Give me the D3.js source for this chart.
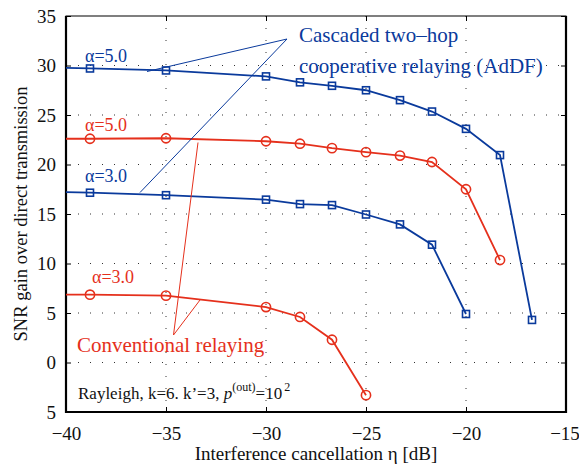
<!DOCTYPE html>
<html>
<head>
<meta charset="utf-8">
<script src="https://cdn.jsdelivr.net/npm/d3@7"></script>
<style>
  body { margin: 0; background: #fff; }
  text { font-family: "Liberation Serif", "DejaVu Serif", "Times New Roman", serif; }
</style>
</head>
<body>
<script>
// interference cancellation (dB); first point sits on the axis, no marker there
var etaX = [-40, -38.8, -35, -30, -28.3, -26.7, -25, -23.3, -21.7, -20, -18.3, -16.7];

// SNR gain values
var addf5 = [29.75, 29.7, 29.5, 28.9, 28.3, 27.95, 27.5, 26.5, 25.35, 23.6, 20.95, 4.3];
var conv5 = [22.6, 22.6, 22.65, 22.35, 22.1, 21.65, 21.25, 20.9, 20.25, 17.5, 10.35];
var addf3 = [17.2, 17.15, 16.9, 16.45, 16.0, 15.9, 14.95, 13.95, 11.9, 4.9];
var conv3 = [6.85, 6.85, 6.75, 5.6, 4.6, 2.3, -3.3];

var xTicks = [-40, -35, -30, -25, -20, -15];
var yTicks = [-5, 0, 5, 10, 15, 20, 25, 30, 35];
var yTickLabels = ["5", "0", "5", "10", "15", "20", "25", "30", "35"];

var blue = "#0a3a9c", red = "#e5301c";

const margin = {top: 16, bottom: 56, right: 13, left: 66},
    width = 579 - margin.left - margin.right,
    height = 468 - margin.top - margin.bottom;

let svg = d3.select("body")
    .append("svg")
    .attr("width", 579)
    .attr("height", 468);

let g = svg.append("g")
    .attr("transform", "translate(" + margin.left + "," + margin.top + ")");

var x = d3.scaleLinear().domain([-40, -15]).range([0, width]);
var y = d3.scaleLinear().domain([-5, 35]).range([height, 0]);

// dotted grid
g.selectAll(".gx").data(xTicks.slice(1, -1)).enter().append("line")
    .attr("x1", d => x(d)).attr("x2", d => x(d))
    .attr("y1", 0).attr("y2", height)
    .attr("stroke", "#333").attr("stroke-width", 1)
    .attr("stroke-dasharray", "1,11");
g.selectAll(".gy").data(yTicks.slice(1, -1)).enter().append("line")
    .attr("y1", d => y(d)).attr("y2", d => y(d))
    .attr("x1", 0).attr("x2", width)
    .attr("stroke", "#333").attr("stroke-width", 1)
    .attr("stroke-dasharray", "1,11");

// axes
g.append("g")
    .attr("transform", "translate(0," + height + ")")
    .call(d3.axisBottom(x).tickValues(xTicks).tickSizeInner(-5).tickSizeOuter(0).tickPadding(15));
g.append("g")
    .call(d3.axisLeft(y).tickValues(yTicks).tickFormat((d, i) => yTickLabels[i])
        .tickSizeInner(-5).tickSizeOuter(0).tickPadding(10));
g.append("g").call(d3.axisTop(x).tickValues(xTicks).tickSizeInner(-5).tickSizeOuter(0).tickFormat(""));
g.append("g").attr("transform", "translate(" + width + ",0)")
    .call(d3.axisRight(y).tickValues(yTicks).tickSizeInner(-5).tickSizeOuter(0).tickFormat(""));

svg.selectAll(".tick text").attr("font-size", 19).attr("fill", "#111")
    .attr("font-family", null);
svg.selectAll("g").attr("font-family", null);
svg.selectAll(".domain").attr("stroke", "none");
svg.selectAll(".tick line").attr("stroke", "#000");
// keep the last x label inside the window
svg.selectAll(".tick text").filter(d => d === -15).attr("dx", -1.5);

// frame
g.append("rect").attr("width", width).attr("height", height)
    .attr("fill", "none").attr("stroke", "#000").attr("stroke-width", 1);
g.append("path")
    .attr("d", "M0,0V" + height + "H" + width + "V0")
    .attr("fill", "none").attr("stroke", "#000").attr("stroke-width", 2.2);

// series
var line = d3.line().x(d => x(d[0])).y(d => y(d[1]));
function series(vals, color, shape) {
    var pts = vals.map((v, i) => [etaX[i], v]);
    g.append("path").datum(pts).attr("d", line)
        .attr("fill", "none").attr("stroke", color).attr("stroke-width", 1.8);
    var marks = pts.slice(1);
    if (shape == "sq") {
        g.selectAll(null).data(marks).enter().append("rect")
            .attr("x", d => x(d[0]) - 3.5).attr("y", d => y(d[1]) - 3.5)
            .attr("width", 7).attr("height", 7)
            .attr("fill", "none").attr("stroke", color).attr("stroke-width", 1.6);
    } else {
        g.selectAll(null).data(marks).enter().append("circle")
            .attr("cx", d => x(d[0])).attr("cy", d => y(d[1])).attr("r", 4.6)
            .attr("fill", "none").attr("stroke", color).attr("stroke-width", 1.6);
    }
}
series(addf5, blue, "sq");
series(conv5, red, "ci");
series(addf3, blue, "sq");
series(conv3, red, "ci");

// labels on curves
function lbl(t, px, py, color, size) {
    svg.append("text").attr("x", px).attr("y", py).attr("fill", color)
        .attr("font-size", size).text(t);
}
lbl("α=5.0", 85, 62, blue, 18);
lbl("α=5.0", 85, 131, red, 18);
lbl("α=3.0", 85, 182, blue, 18);
lbl("α=3.0", 92, 283, red, 18);

// annotation pointers
svg.append("polyline").attr("points", "147,71.5 287,39 140,192.5")
    .attr("fill", "none").attr("stroke", blue).attr("stroke-width", 1);
svg.append("polyline").attr("points", "198,142.5 173.5,335 200,300")
    .attr("fill", "none").attr("stroke", red).attr("stroke-width", 1);

lbl("Cascaded two\u2013hop", 299, 42, blue, 21);
lbl("cooperative relaying (AdDF)", 299, 73, blue, 21);
lbl("Conventional relaying", 77, 352, red, 21);

var note = svg.append("text").attr("x", 78).attr("y", 399)
    .attr("fill", "#111").attr("font-size", 17);
note.append("tspan").text("Rayleigh, k=6. k\u2019=3, ");
note.append("tspan").attr("font-style", "italic").text("p");
note.append("tspan").attr("dy", -8).attr("font-size", 12).text("(out)");
note.append("tspan").attr("dy", 8).text("=10");
note.append("tspan").attr("dy", -8).attr("dx", 2).attr("font-size", 12).text("2");

// axis titles
svg.append("text").attr("x", margin.left + width / 2).attr("y", 460)
    .attr("text-anchor", "middle").attr("font-size", 19).attr("fill", "#111")
    .text("Interference cancellation \u03b7 [dB]");
svg.append("text")
    .attr("transform", "translate(27," + (margin.top + height / 2) + ") rotate(-90)")
    .attr("text-anchor", "middle").attr("font-size", 18.5).attr("fill", "#111")
    .text("SNR gain over direct transmission");
</script>
</body>
</html>
